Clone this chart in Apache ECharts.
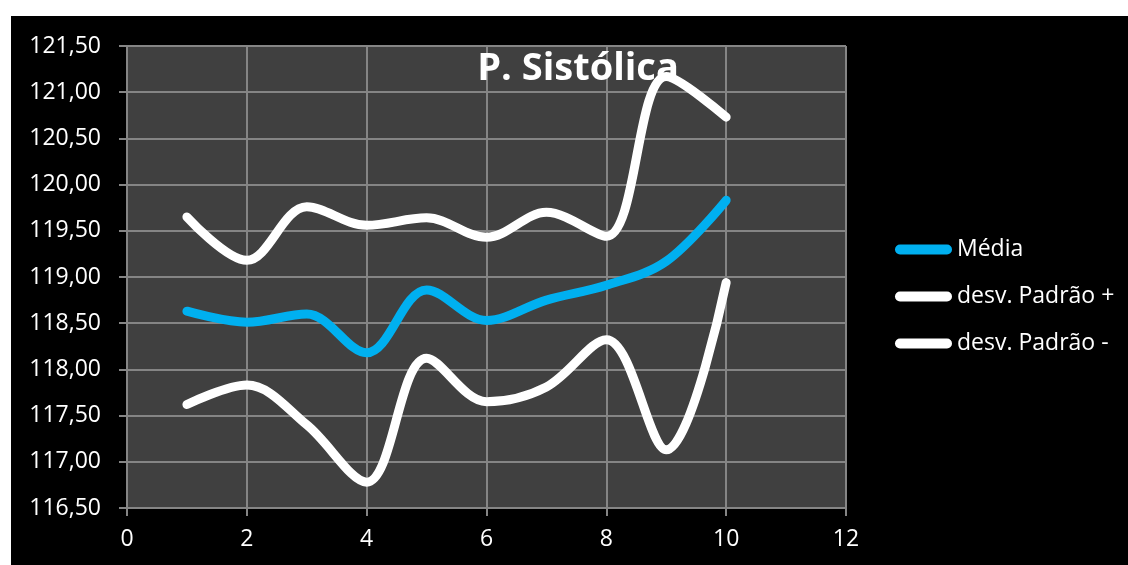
<!DOCTYPE html>
<html>
<head>
<meta charset="utf-8">
<script src="https://cdn.jsdelivr.net/npm/echarts@6/dist/echarts.min.js"></script>
<style>
  html, body { margin: 0; padding: 0; background: #ffffff; }
  #chart { position: absolute; left: 11px; top: 16px; width: 1117px; height: 549px; background: #000000; }
</style>
</head>
<body>
<div id="chart"></div>
<script>
// Pressão sistólica: média e faixa de ± desvio padrão por medição
const xValues     = [1, 2, 3, 4, 5, 6, 7, 8, 9, 10];
const media       = [118.63, 118.51, 118.60, 118.18, 118.86, 118.53, 118.75, 118.91, 119.17, 119.83];
const desvPadraoMais  = [119.65, 119.18, 119.76, 119.56, 119.64, 119.43, 119.70, 119.44, 121.17, 120.73];
const desvPadraoMenos = [117.62, 117.83, 117.40, 116.78, 118.12, 117.65, 117.81, 118.32, 117.13, 118.94];
const seriesNames = ['Média', 'desv. Padrão +', 'desv. Padrão -'];
const titleText = 'P. Sistólica';

const FONT = '"Open Sans", sans-serif';
const GRID_COLOR = '#858585';
const capsule = 'path://M5,0 L52,0 A5,5 0 0 1 52,10 L5,10 A5,5 0 0 1 5,0 Z';

function pairs(ys) { return xValues.map((x, i) => [x, ys[i]]); }

function lineSeries(name, ys, color) {
  return {
    name: name,
    type: 'line',
    data: pairs(ys),
    smooth: 0.35,
    showSymbol: false,
    symbol: 'none',
    z: 3,
    lineStyle: { color: color, width: 9, cap: 'round', join: 'round' },
    itemStyle: { color: color }
  };
}

const chart = echarts.init(document.getElementById('chart'));
chart.setOption({
  backgroundColor: '#000000',
  animation: false,
  title: {
    text: titleText,
    left: 562,
    top: 29,
    textAlign: 'center',
    z: 1,
    textStyle: { color: '#ffffff', fontFamily: FONT, fontWeight: 'bold', fontSize: 38 }
  },
  legend: {
    orient: 'vertical',
    left: 879,
    top: 217,
    itemWidth: 57,
    itemHeight: 10,
    itemGap: 24,
    itemTextGap: 2,
    icon: capsule,
    textStyle: { color: '#ffffff', fontFamily: FONT, fontSize: 23 },
    data: seriesNames
  },
  grid: {
    left: 116, top: 30, width: 719, height: 462,
    show: true, backgroundColor: '#404040', borderWidth: 0, z: 0
  },
  xAxis: {
    type: 'value',
    min: 0, max: 12, interval: 2,
    axisLine: { show: true, lineStyle: { color: GRID_COLOR, width: 2 } },
    axisTick: { show: true, length: 8, lineStyle: { color: GRID_COLOR, width: 2 } },
    axisLabel: { color: '#ffffff', fontFamily: FONT, fontSize: 23, margin: 20 },
    splitLine: { show: true, lineStyle: { color: GRID_COLOR, width: 2 } }
  },
  yAxis: {
    type: 'value',
    min: 116.5, max: 121.5, interval: 0.5,
    axisLine: { show: true, lineStyle: { color: GRID_COLOR, width: 2 } },
    axisTick: { show: true, length: 8, lineStyle: { color: GRID_COLOR, width: 2 } },
    axisLabel: {
      color: '#ffffff', fontFamily: FONT, fontSize: 23, margin: 26,
      formatter: v => v.toFixed(2).replace('.', ',')
    },
    splitLine: { show: true, lineStyle: { color: GRID_COLOR, width: 2 } }
  },
  series: [
    lineSeries(seriesNames[0], media, '#00b0f0'),
    lineSeries(seriesNames[1], desvPadraoMais, '#ffffff'),
    lineSeries(seriesNames[2], desvPadraoMenos, '#ffffff')
  ]
});
</script>
</body>
</html>
